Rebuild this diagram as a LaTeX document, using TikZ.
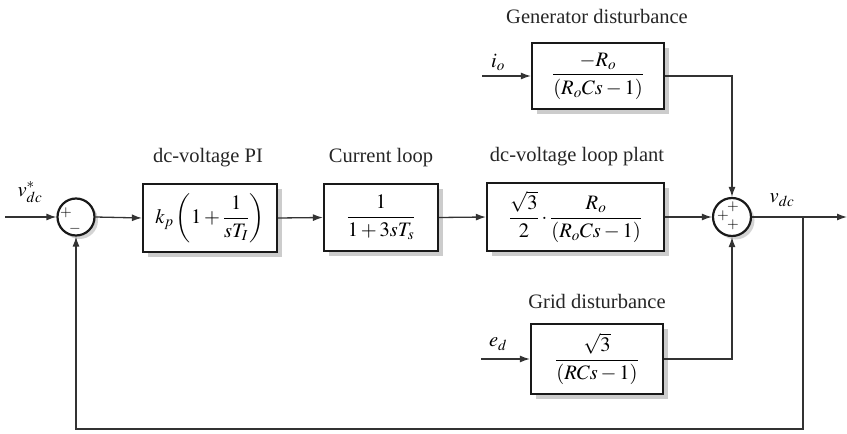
\documentclass[tikz,border=0pt]{standalone}
\usepackage{mathptmx}
\usepackage{fontspec}
\setmainfont{Liberation Serif}
\newfontfamily\tnr{Liberation Serif}
\usetikzlibrary{arrows.meta,shadows,calc}
\begin{document}
\begin{tikzpicture}[x=1pt,y=-1pt,
  every node/.style={font=\tnr\fontsize{20.5}{24}\selectfont},
  block/.style={draw=black!90, line width=2.2pt, fill=white, inner sep=0pt,
    drop shadow={shadow xshift=5pt, shadow yshift=-5pt, fill=black!20, opacity=1}},
  sumnode/.style={circle, draw=black!90, line width=2.2pt, fill=white, minimum size=37pt, inner sep=0pt,
    drop shadow={shadow xshift=3.5pt, shadow yshift=-3.5pt, fill=black!17, opacity=1}},
  conn/.style={draw=black!80, line width=1.3pt},
  arr/.style={conn, -{Latex[length=10pt,width=7pt]}},
  sign/.style={font=\tnr\fontsize{15}{16}\selectfont, inner sep=0pt},
  title/.style={inner sep=0pt, text=black!85},
  lab/.style={inner sep=0pt}
]
\useasboundingbox (0,0) rectangle (847,434);

% blocks
\node[block, minimum width=134pt, minimum height=68pt] (pi) at (210,218)
  {$\displaystyle k_p\left(1+\frac{1}{sT_I}\right)$};
\node[block, minimum width=114pt, minimum height=67pt] (cl) at (381,217.5)
  {$\displaystyle \frac{1}{1+3sT_s}$};
\node[block, minimum width=177pt, minimum height=68pt] (pl) at (575.5,217)
  {$\displaystyle \frac{\sqrt{3}}{2}\cdot\frac{R_o}{(R_oCs-1)}$};
\node[block, minimum width=132pt, minimum height=66pt] (gen) at (598,76)
  {$\displaystyle \frac{-R_o}{(R_oCs-1)}$};
\node[block, minimum width=132pt, minimum height=70pt] (grid) at (597,359)
  {$\displaystyle \frac{\sqrt{3}}{(RCs-1)}$};

% summing junctions
\node[sumnode] (s1) at (76,217) {};
\node[sumnode, minimum size=38pt] (s2) at (732,217) {};
\node[sign] at ($(s1)+(-10,-4)$) {$+$};
\node[sign] at ($(s1)+(-1,12)$) {$-$};
\node[sign] at ($(s2)+(1,-10)$) {$+$};
\node[sign] at ($(s2)+(-9,-1)$) {$+$};
\node[sign] at ($(s2)+(1,8)$) {$+$};

% titles
\node[title] (t1) at (208,158) {dc-voltage PI};
\node[title] (t2) at (381,158) {Current loop};
\node[title] (t3) at (577,157) {dc-voltage loop plant};
\node[title] (t4) at (597,16) {Generator disturbance};
\node[title] (t5) at (597,301) {Grid disturbance};

% signal labels
\node[lab] (lref) at (30,192) {$v_{dc}^{*}$};
\node[lab] (lout) at (782,200) {$v_{dc}$};
\node[lab] (lio) at (498,62) {$i_o$};
\node[lab] (led) at (498,344) {$e_d$};

% coordinates
\coordinate (in) at (5,217);
\coordinate (out) at (847,217);
\coordinate (br) at (803,217);
\coordinate (bot) at (803,429);
\coordinate (io) at (482,76);
\coordinate (ed) at (481,359);

% connectors
\draw[arr] (in) -- (s1.west);
\draw[arr] (s1.east) -- (pi.west);
\draw[arr] (pi.east) -- (cl.west);
\draw[arr] (cl.east) -- (pl.west);
\draw[arr] (pl.east) -- (s2.west);
\draw[arr] (s2.east) -- (out);
\draw[arr] (io) -- (gen.west);
\draw[arr] (ed) -- (grid.west);
\draw[arr] (gen.east) -| (s2.north);
\draw[arr] (grid.east) -| (s2.south);
\draw[arr] (br) -- (bot) -| (s1.south);
\end{tikzpicture}
\end{document}
